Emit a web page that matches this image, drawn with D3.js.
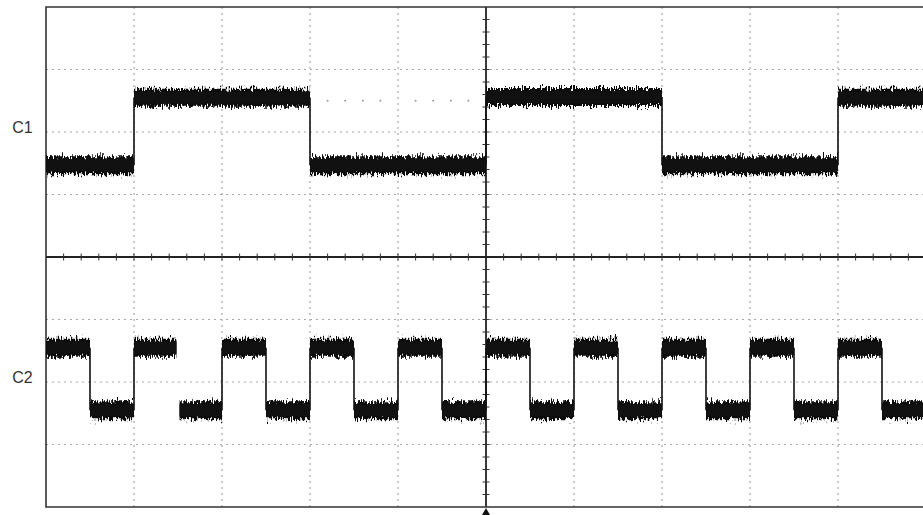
<!DOCTYPE html>
<html>
<head>
<meta charset="utf-8">
<script src="https://cdn.jsdelivr.net/npm/d3@7"></script>
<style>
  body { margin: 0; background: #fff; }
  svg { display: block; }
</style>
</head>
<body>
<svg id="scope" width="923" height="515"></svg>
<script>
// Grade: 10 divisões horizontais, 8 verticais (centro = 0)
const gridX = [-4, -3, -2, -1, 1, 2, 3, 4];
const gridY = [-3, -2, -1, 1, 2, 3];

// C1: limites dos segmentos (div) e nível de cada segmento (div)
const c1Edges = [-5, -4, -2, 0, 2, 4, 5];
const c1Values = [1.47, 2.55, 1.47, 2.56, 1.47, 2.55];

// C2: metade do período = 0.5 div
const c2Edges = [-5, -4.5, -4, -3.5, -3, -2.5, -2, -1.5, -1, -0.5, 0, 0.5, 1, 1.5, 2, 2.5, 3, 3.5, 4, 4.5, 5];
const c2Values = [-1.45, -2.45, -1.45, -2.45, -1.45, -2.45, -1.45, -2.45, -1.45, -2.45,
                  -1.45, -2.45, -1.45, -2.45, -1.45, -2.45, -1.45, -2.45, -1.45, -2.45];
// bordas sem transição vertical (falha no traço)
const c2Gaps = [-3.5];

// pontos fracos remanescentes no canal 1
const ghostX = [-1.8, -1.6, -1.4, -1.2, -0.8, -0.6, -0.4, -0.2];
const ghostY = 2.5;

const channelLabels = [
  { name: "C1", v: 2.0 },
  { name: "C2", v: -2.0 }
];

const svg = d3.select("#scope");
const x = d3.scaleLinear().domain([-5, 5]).range([46, 926]);
const y = d3.scaleLinear().domain([-4, 4]).range([507, 7]);
const right = 923;

// filtro de ruído para as faixas do sinal
const defs = svg.append("defs");
const f = defs.append("filter").attr("id", "noise")
  .attr("filterUnits", "userSpaceOnUse")
  .attr("x", 0).attr("y", 0).attr("width", 923).attr("height", 515);
f.append("feTurbulence").attr("type", "fractalNoise")
  .attr("baseFrequency", "0.8 0.18").attr("numOctaves", 2).attr("seed", 7).attr("result", "t");
f.append("feColorMatrix").attr("in", "t").attr("type", "matrix")
  .attr("values", "0 0 0 0 0.5  1 0 0 0 0  0 0 1 0 0  0 0 0 0 1").attr("result", "m");
f.append("feDisplacementMap").attr("in", "SourceGraphic").attr("in2", "m")
  .attr("scale", 14).attr("xChannelSelector", "R").attr("yChannelSelector", "G");

// grade pontilhada
svg.append("g").selectAll("line").data(gridX).enter().append("line")
  .attr("x1", d => x(d)).attr("x2", d => x(d))
  .attr("y1", y(4)).attr("y2", y(-4))
  .attr("stroke", "#a8a8a8").attr("stroke-width", 1.2).attr("stroke-dasharray", "2,4");

svg.append("g").selectAll("line").data(gridY).enter().append("line")
  .attr("x1", x(-5)).attr("x2", right)
  .attr("y1", d => y(d)).attr("y2", d => y(d))
  .attr("stroke", "#a8a8a8").attr("stroke-width", 1.2).attr("stroke-dasharray", "2,4");

// eixos centrais com marcas
svg.append("line").attr("x1", x(-5)).attr("x2", right).attr("y1", y(0)).attr("y2", y(0))
  .attr("stroke", "#222").attr("stroke-width", 1.8);
svg.append("line").attr("x1", x(0)).attr("x2", x(0)).attr("y1", y(4)).attr("y2", y(-4))
  .attr("stroke", "#222").attr("stroke-width", 1.8);

const minorX = d3.range(-24, 25).map(i => i / 5).filter(d => d !== 0);
const minorY = d3.range(-19, 20).map(i => i / 5).filter(d => d !== 0);

svg.append("g").selectAll("line").data(minorX).enter().append("line")
  .attr("x1", d => x(d)).attr("x2", d => x(d))
  .attr("y1", y(0) - 3.5).attr("y2", y(0) + 3.5)
  .attr("stroke", "#333").attr("stroke-width", 1);
svg.append("g").selectAll("line").data(minorY).enter().append("line")
  .attr("x1", x(0) - 3.5).attr("x2", x(0) + 3.5)
  .attr("y1", d => y(d)).attr("y2", d => y(d))
  .attr("stroke", "#333").attr("stroke-width", 1);

// moldura (sem borda direita visível)
svg.append("path")
  .attr("d", `M${right},${y(4)}H${x(-5)}V${y(-4)}H${right}`)
  .attr("fill", "none").attr("stroke", "#333").attr("stroke-width", 1.6);

// pontos fracos
svg.append("g").selectAll("circle").data(ghostX).enter().append("circle")
  .attr("cx", d => x(d)).attr("cy", y(ghostY)).attr("r", 1)
  .attr("fill", "#999");

// desenhar um canal
function drawChannel(edges, values, gaps) {
  const g = svg.append("g");
  const segs = values.map((v, i) => ({ x0: edges[i], x1: edges[i + 1], v }));
  const sx0 = d => x(d.x0) + (gaps.includes(d.x0) ? 1.5 : 0);
  const sx1 = d => x(d.x1) - (gaps.includes(d.x1) ? 1.5 : 0);
  // faixa ruidosa
  g.append("g").attr("filter", "url(#noise)")
    .selectAll("line").data(segs).enter().append("line")
    .attr("x1", sx0).attr("x2", sx1)
    .attr("y1", d => y(d.v)).attr("y2", d => y(d.v))
    .attr("stroke", "#111").attr("stroke-width", 18);
  // núcleo sólido
  g.append("g").selectAll("line").data(segs).enter().append("line")
    .attr("x1", sx0).attr("x2", sx1)
    .attr("y1", d => y(d.v)).attr("y2", d => y(d.v))
    .attr("stroke", "#111").attr("stroke-width", 12);
  const trans = edges.slice(1, -1).map((e, i) => ({ e, a: values[i], b: values[i + 1] }))
    .filter(d => !gaps.includes(d.e));
  g.append("g").selectAll("line").data(trans).enter().append("line")
    .attr("x1", d => x(d.e)).attr("x2", d => x(d.e))
    .attr("y1", d => y(d.a)).attr("y2", d => y(d.b))
    .attr("stroke", "#111").attr("stroke-width", 1.6);
}

drawChannel(c1Edges, c1Values, []);
drawChannel(c2Edges, c2Values, c2Gaps);

// rótulos dos canais
svg.append("g").selectAll("text").data(channelLabels).enter().append("text")
  .attr("x", 22.5).attr("y", d => y(d.v) - 5)
  .attr("text-anchor", "middle").attr("dominant-baseline", "central")
  .attr("font-family", "Liberation Sans, Arial, sans-serif").attr("font-size", 16)
  .attr("fill", "#333").text(d => d.name);

// marcador de disparo
svg.append("path")
  .attr("d", `M${x(0)},${y(-4) + 1}l4,7h-8z`)
  .attr("fill", "#111");
</script>
</body>
</html>
